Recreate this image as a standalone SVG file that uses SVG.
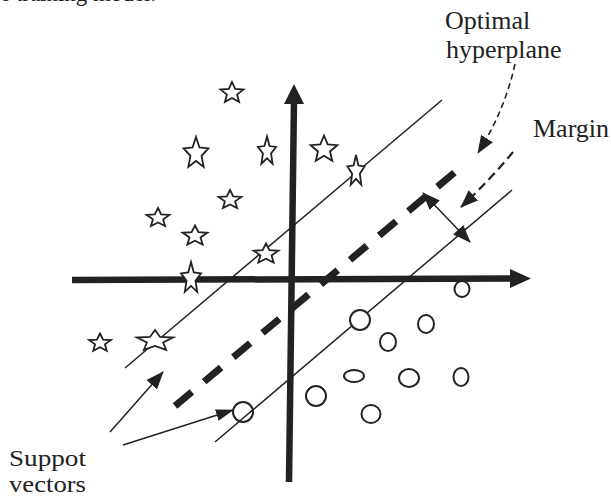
<svg xmlns="http://www.w3.org/2000/svg" xmlns:xlink="http://www.w3.org/1999/xlink" width="611" height="502" viewBox="0 0 611 502">
<defs>
<style>
.txt{font-family:"Liberation Serif","Times New Roman",serif;font-size:26px;fill:#222}
.sm{font-size:24px}
.thin{stroke:#222;stroke-width:1.5;fill:none}
.axis{stroke:#222;stroke-width:6.5;fill:none}
.st{fill:#fff;stroke:#222;stroke-width:1.8;stroke-linejoin:miter}
.ci{fill:#fff;stroke:#222;stroke-width:2}
.head{fill:#222;stroke:none}
</style>
<path id="star" d="M0,-1 L0.265,-0.364 L0.951,-0.309 L0.428,0.139 L0.588,0.809 L0,0.45 L-0.588,0.809 L-0.428,0.139 L-0.951,-0.309 L-0.265,-0.364 Z" vector-effect="non-scaling-stroke"/>
<marker id="ah" viewBox="0 0 18 14" refX="17" refY="7" markerWidth="18" markerHeight="14" markerUnits="userSpaceOnUse" orient="auto-start-reverse">
<path d="M0,0 L18,7 L0,14 Z" class="head"/>
</marker>
<marker id="ahs" viewBox="0 0 18 12" refX="17" refY="6" markerWidth="18" markerHeight="12" markerUnits="userSpaceOnUse" orient="auto-start-reverse">
<path d="M0,0 L18,6 L0,12 Z" class="head"/>
</marker>
</defs>
<rect width="611" height="502" fill="#fff"/>
<text class="txt" x="0" y="1" font-size="22" textLength="156" lengthAdjust="spacingAndGlyphs">e training model.</text>

<g id="axes">
<line class="axis" x1="72" y1="280" x2="512" y2="278.5"/>
<polygon class="head" points="531,278.5 510,269 510,288"/>
<line class="axis" x1="289" y1="482" x2="294" y2="100"/>
<polygon class="head" points="294,84 284,104 304,104"/>
</g>

<g id="connectors">
<line class="thin" x1="125" y1="368" x2="442" y2="100"/>
<line class="thin" x1="215" y1="442" x2="512" y2="190"/>
<line x1="175" y1="406" x2="460" y2="168" stroke="#222" stroke-width="7" stroke-dasharray="22 16"/>
<line class="thin" x1="110" y1="432" x2="163" y2="372" marker-end="url(#ah)"/>
<line class="thin" x1="123" y1="445" x2="233" y2="410" marker-end="url(#ahs)"/>
<line class="thin" x1="423" y1="193" x2="470" y2="242" marker-start="url(#ah)" marker-end="url(#ah)"/>
<path d="M515,64 Q505,110 478,153" fill="none" stroke="#222" stroke-width="1.6" stroke-dasharray="6 4" marker-end="url(#ah)"/>
<path d="M513,152 Q490,180 461,207" fill="none" stroke="#222" stroke-width="2.2" stroke-dasharray="9 5" marker-end="url(#ah)"/>
</g>

<g id="stars">
<use id="s1" xlink:href="#star" class="st" transform="translate(232,93) scale(12,11)"/>
<use id="s2" xlink:href="#star" class="st" transform="translate(196,153.5) scale(13,16.5)"/>
<use id="s3" xlink:href="#star" class="st" transform="translate(267,151.5) scale(9.5,15)"/>
<use id="s4" xlink:href="#star" class="st" transform="translate(324,149.5) scale(14,14)"/>
<use id="s5" xlink:href="#star" class="st" transform="translate(356,171.5) scale(9,16.5)"/>
<use id="s6" xlink:href="#star" class="st" transform="translate(230,200) scale(12,10)"/>
<use id="s7" xlink:href="#star" class="st" transform="translate(158,218) scale(12,10)"/>
<use id="s8" xlink:href="#star" class="st" transform="translate(195,236) scale(13,10.5)"/>
<use id="s9" xlink:href="#star" class="st" transform="translate(266,254) scale(13,10.5)"/>
<use id="s10" xlink:href="#star" class="st" transform="translate(191,278.5) scale(10.5,16.5)"/>
<use id="s11" xlink:href="#star" class="st" transform="translate(100,343) scale(11.5,9.5)"/>
<use id="s12" xlink:href="#star" class="st" transform="translate(155,341) scale(19,11)"/>
</g>

<g id="circles">
<ellipse id="c1" class="ci" cx="462" cy="289" rx="7.5" ry="8"/>
<circle id="c2" class="ci" cx="360" cy="320" r="10"/>
<ellipse id="c3" class="ci" cx="426" cy="324" rx="8" ry="9"/>
<ellipse id="c4" class="ci" cx="388" cy="342" rx="8" ry="9"/>
<ellipse id="c5" class="ci" cx="354" cy="376" rx="10" ry="6"/>
<ellipse id="c6" class="ci" cx="409" cy="378" rx="10" ry="9"/>
<ellipse id="c7" class="ci" cx="461" cy="377" rx="7.5" ry="9"/>
<circle id="c8" class="ci" cx="316" cy="396" r="10"/>
<ellipse id="c9" class="ci" cx="371" cy="414" rx="9.5" ry="9"/>
<circle id="c10" cx="243" cy="412" r="10" fill="none" stroke="#222" stroke-width="2"/>
</g>

<g id="label-optimal">
<text class="txt" x="445" y="29">Optimal</text>
<text class="txt" x="446" y="58">hyperplane</text>
</g>
<g id="label-margin">
<text class="txt" x="533" y="137">Margin</text>
</g>
<g id="label-support">
<text class="txt sm" x="9" y="466" textLength="77" lengthAdjust="spacingAndGlyphs">Suppot</text>
<text class="txt sm" x="9" y="492" textLength="77" lengthAdjust="spacingAndGlyphs">vectors</text>
</g>
</svg>
